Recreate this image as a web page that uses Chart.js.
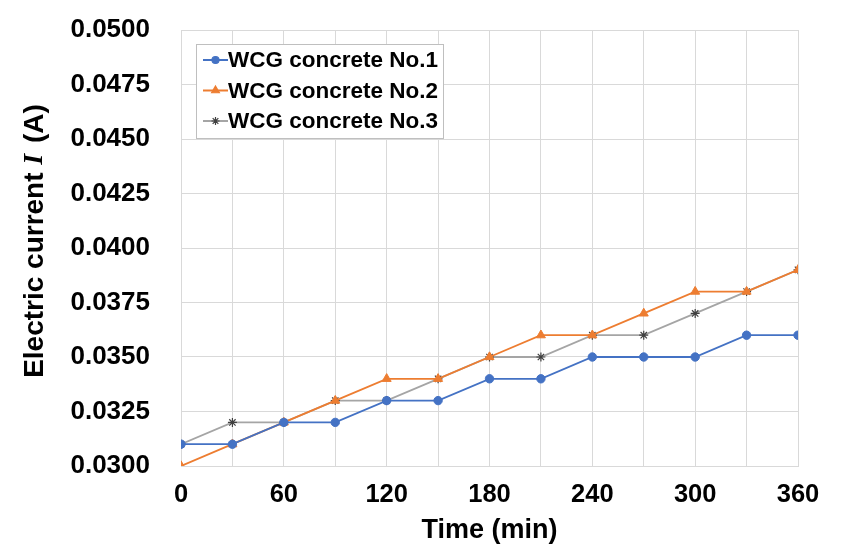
<!DOCTYPE html>
<html>
<head>
<meta charset="utf-8">
<script src="https://cdn.jsdelivr.net/npm/chart.js@4.4.1/dist/chart.umd.min.js"></script>
<style>
html,body{margin:0;padding:0;background:#fff;}
#wrap{width:868px;height:559px;position:relative;}
</style>
</head>
<body>
<div id="wrap"><canvas id="c" width="868" height="559"></canvas></div>
<script>
const timeMin = [0, 30, 60, 90, 120, 150, 180, 210, 240, 270, 300, 330, 360];
const no1 = [0.031, 0.031, 0.032, 0.032, 0.033, 0.033, 0.034, 0.034, 0.035, 0.035, 0.035, 0.036, 0.036];
const no2 = [0.030, 0.031, 0.032, 0.033, 0.034, 0.034, 0.035, 0.036, 0.036, 0.037, 0.038, 0.038, 0.039];
const no3 = [0.031, 0.032, 0.032, 0.033, 0.033, 0.034, 0.035, 0.035, 0.036, 0.036, 0.037, 0.038, 0.039];
const seriesNames = ['WCG concrete No.1', 'WCG concrete No.2', 'WCG concrete No.3'];
const xTickLabels = ['0', '60', '120', '180', '240', '300', '360'];
const yTickLabels = ['0.0300','0.0325','0.0350','0.0375','0.0400','0.0425','0.0450','0.0475','0.0500'];
const xTitle = 'Time (min)';
const yTitleParts = ['Electric current ', 'I', ' (A)'];

const FONT = '"Liberation Sans", Arial, sans-serif';
const pts = arr => arr.map((v, i) => ({x: timeMin[i], y: v}));

const styles = [
  {color: '#4472C4', marker: 'circle', mcolor: '#4472C4', r: 4.2, lr: 3.5},
  {color: '#ED7D31', marker: 'triangle', mcolor: '#ED7D31', r: 5.2, lr: 4.5},
  {color: '#A5A5A5', marker: 'star', mcolor: '#404040', r: 4.5, lr: 4}
];
const dataSets = [no1, no2, no3];

const customDraw = {
  id: 'customDraw',
  afterDraw(chart) {
    const ctx = chart.ctx;
    const ca = chart.chartArea;
    ctx.save();
    ctx.fillStyle = '#000';
    ctx.font = 'bold 27px ' + FONT;
    ctx.textAlign = 'center';
    ctx.textBaseline = 'middle';
    ctx.fillText(xTitle, (ca.left + ca.right) / 2, 531);
    ctx.translate(35, 241);
    ctx.rotate(-Math.PI / 2);
    const fN = 'bold 28px ' + FONT;
    const fI = 'bold italic 28px "Liberation Serif", "Times New Roman", serif';
    ctx.font = fN; const w0 = ctx.measureText(yTitleParts[0]).width;
    ctx.font = fI; const w1 = ctx.measureText(yTitleParts[1]).width;
    ctx.font = fN; const w2 = ctx.measureText(yTitleParts[2]).width;
    let x = -(w0 + w1 + w2 + 3) / 2;
    ctx.textAlign = 'left';
    ctx.font = fN; ctx.fillText(yTitleParts[0], x, 0); x += w0;
    ctx.font = fI; ctx.fillText(yTitleParts[1], x, 0); x += w1 + 3;
    ctx.font = fN; ctx.fillText(yTitleParts[2], x, 0);
    ctx.restore();

    // legend
    ctx.save();
    const bx = 196, by = 44, bw = 247, bh = 94;
    ctx.fillStyle = '#fff';
    ctx.fillRect(bx, by, bw, bh);
    ctx.strokeStyle = '#BFBFBF';
    ctx.lineWidth = 1;
    ctx.strokeRect(bx + 0.5, by + 0.5, bw, bh);
    ctx.font = 'bold 22.5px ' + FONT;
    ctx.textAlign = 'left';
    ctx.textBaseline = 'middle';
    for (let i = 0; i < 3; i++) {
      const cy = by + 16 + i * 30.5;
      const st = styles[i];
      ctx.strokeStyle = st.color;
      ctx.lineWidth = 2;
      ctx.beginPath();
      ctx.moveTo(203, cy); ctx.lineTo(228, cy); ctx.stroke();
      ctx.fillStyle = st.mcolor; ctx.strokeStyle = st.mcolor;
      ctx.lineWidth = 1.2;
      Chart.helpers.drawPoint(ctx, {pointStyle: st.marker, radius: st.lr, borderWidth: 1.2, rotation: 0}, 215.5, cy);
      ctx.fillStyle = '#000';
      ctx.fillText(seriesNames[i], 228, cy + 1);
    }
    ctx.restore();
  }
};

new Chart(document.getElementById('c'), {
  type: 'line',
  data: {
    datasets: dataSets.map((d, i) => ({
      label: seriesNames[i],
      data: pts(d),
      borderColor: styles[i].color,
      backgroundColor: styles[i].mcolor,
      pointBorderColor: styles[i].mcolor,
      pointBackgroundColor: styles[i].mcolor,
      pointStyle: styles[i].marker,
      pointRadius: styles[i].r,
      pointBorderWidth: i === 2 ? 1.2 : 1,
      borderWidth: 1.8,
      tension: 0,
      fill: false
    }))
  },
  options: {
    responsive: false,
    animation: false,
    layout: {padding: {left: 0, top: 30, right: 70, bottom: 0}},
    plugins: {legend: {display: false}, tooltip: {enabled: false}},
    scales: {
      x: {
        type: 'linear', min: 0, max: 360,
        afterFit(s) { s.height = 559 - 466; s.paddingLeft = 0; s.paddingRight = 0; },
        ticks: {
          stepSize: 30, autoSkip: false, maxRotation: 0, padding: 14,
          color: '#000', font: {family: FONT, size: 25.5, weight: 'bold'},
          callback(v) { return v % 60 === 0 ? xTickLabels[v / 60] : ''; }
        },
        grid: {color: '#D9D9D9', lineWidth: 1, drawTicks: false},
        border: {color: '#D9D9D9'}
      },
      y: {
        min: 0.03, max: 0.05,
        afterFit(s) { s.width = 181; s.paddingTop = 0; s.paddingBottom = 0; },
        ticks: {
          stepSize: 0.0025, padding: 31,
          color: '#000', font: {family: FONT, size: 26, weight: 'bold'},
          callback(v) { const i = Math.round((v - 0.03) / 0.0025); return yTickLabels[i]; }
        },
        grid: {color: '#D9D9D9', lineWidth: 1, drawTicks: false},
        border: {color: '#D9D9D9'}
      }
    }
  },
  plugins: [customDraw]
});
</script>
</body>
</html>
